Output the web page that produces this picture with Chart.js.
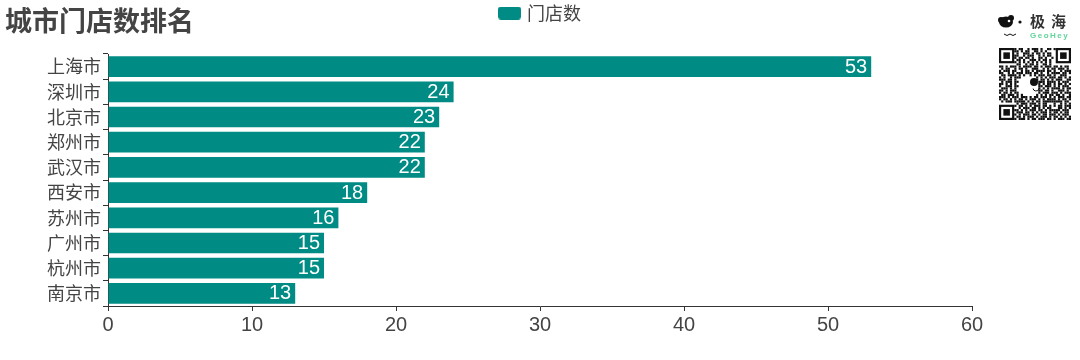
<!DOCTYPE html>
<html>
<head>
<meta charset="utf-8">
<script src="https://cdn.jsdelivr.net/npm/chart.js@4"></script>
<style>
    html, body { margin: 0; padding: 0; background: #fff; }
    #wrap { position: relative; width: 1080px; height: 360px; overflow: hidden; font-family: "Noto Sans CJK SC", sans-serif; }
    #chart { position: absolute; left: 0; top: 0; }
    #title { position: absolute; left: 5px; top: 2px; font-size: 27px; font-weight: 700; color: #444; line-height: 36px; white-space: nowrap; }
    #logo-cn { position: absolute; left: 1030px; top: 11px; font-size: 15px; font-weight: 700; color: #333; letter-spacing: 6px; line-height: 20px; white-space: nowrap; }
    #logo-en { position: absolute; left: 1030px; top: 31px; font-size: 8px; font-weight: 700; color: #62d49a; letter-spacing: 1.5px; line-height: 10px; font-family: "Liberation Sans", sans-serif; }
    #dog { position: absolute; left: 995px; top: 10px; }
    #qr { position: absolute; left: 999px; top: 48px; }
</style>
</head>
<body>
<div id="wrap">
    <canvas id="chart" width="1080" height="360"></canvas>
    <div id="title">城市门店数排名</div>
    <canvas id="dog" width="32" height="30"></canvas>
    <div id="logo-cn">极海</div>
    <div id="logo-en">GeoHey</div>
    <canvas id="qr" width="72" height="72"></canvas>
</div>
<script>
const cities = ['上海市', '深圳市', '北京市', '郑州市', '武汉市', '西安市', '苏州市', '广州市', '杭州市', '南京市'];
const storeCounts = [53, 24, 23, 22, 22, 18, 16, 15, 15, 13];
const xTicks = [0, 10, 20, 30, 40, 50, 60];

const qrRows = [
    '.......#.##..#.###.#..##.#.......',
    '.......##.#.##..##.#.#...........',
    '........#..###.#.##.#.##.........',
    '.......##..#.###..#.#.##.........',
    '.......#.##.##.#..##.#..#........',
    '........##.#..###.#.##.#.........',
    '.......#.#.#.#.#.#.#.#.#.........',
    '........##..#.##.#..##.#.........',
    '##.#.###.#.####.##.#.###.##.#.##.',
    '.#.##..#.##.#..###..#.#.##.###.#.',
    '#.###.##..#.##.#.####.##.#..#.###',
    '##..#.#.###.###.##.#..#.####.##.#',
    '.##.####.#.#..#.#.###.##.#..###..',
    '#.#..#.###.......#.#.#.###.##.#.#',
    '###.##.#.........#.##.#.#.###..##',
    '.#.###.##.........###.####.#.###.',
    '##.#.#.#..........#.#.##.#.##.#.#',
    '#..###.##.........##.###.#.#.###.',
    '.###.#.#..........#.#.#.####.#.##',
    '##.#.###..........##.##.#..###.#.',
    '#.##.#.##.........#.###.###.#.###',
    '.##.###.#.#......#.#.#.##.##.#..#',
    '###.#.###.###.#.##.###.#.#.###.##',
    '#.##.#.#.##.#.###.#.#.####.#.##.#',
    '.#.###.#####.#.#.##.#########.##.',
    '........#.###.###.#.##...#..#.#.#',
    '.......#.##.#.#.###.##.#.#.##.###',
    '.........#.###.##.#.#.##...##.#.#',
    '.......##.#.#.###.##.#.#####.###.',
    '........###.##.#.#.###.#.##.#.##.',
    '.......#.#.###.##.#.##.###.#.###.',
    '........##.#.###.#.###.#.##.#.#.#',
    '.......#.###.#.##.###.##.#.###.##'
];

const teal = '#008b85';
const textColor = '#444';

// legend swatch: 23 wide but takes less room, so the text sits close to it
const legendBox = document.createElement('canvas');
legendBox.width = 23;
legendBox.height = 13;
const boxCtx = legendBox.getContext('2d');
boxCtx.fillStyle = teal;
boxCtx.beginPath();
boxCtx.roundRect(0, 0, 23, 13, 3);
boxCtx.fill();

const barLabels = {
    id: 'barLabels',
    beforeLayout(chart) {
        // legend reserves the band above the plot, whatever its own size is
        const legend = chart.legend;
        if (legend.fitWrapped) return;
        const fit = legend.fit.bind(legend);
        legend.fit = () => { fit(); legend.height = 54; };
        legend.fitWrapped = true;
    },
    afterLayout(chart) {
        // centre the legend on the whole canvas, not on the padded area
        chart.legend.left = 0;
        chart.legend.right = 1082;
    },
    // value labels at the bar end, white on the bar
    afterDatasetsDraw(chart) {
        const ctx = chart.ctx;
        ctx.save();
        ctx.fillStyle = '#fff';
        ctx.font = '20px "Liberation Sans", sans-serif';
        ctx.textAlign = 'right';
        ctx.textBaseline = 'middle';
        chart.getDatasetMeta(0).data.forEach((bar, i) => {
            ctx.fillText(storeCounts[i], bar.x - 4, bar.y + 0.5);
        });
        ctx.restore();
    }
};

new Chart(document.getElementById('chart'), {
    type: 'bar',
    data: {
        labels: cities,
        datasets: [{
            label: '门店数',
            data: storeCounts,
            backgroundColor: teal,
            borderRadius: 0,
            barPercentage: 0.82,
            categoryPercentage: 1
        }]
    },
    options: {
        indexAxis: 'y',
        responsive: false,
        animation: false,
        layout: { padding: { left: 0, right: 108, top: 0, bottom: 0 } },
        plugins: {
            tooltip: { enabled: false },
            legend: {
                display: true,
                position: 'top',
                labels: {
                    usePointStyle: true,
                    pointStyle: legendBox,
                    pointStyleWidth: 17,
                    color: textColor,
                    font: { size: 18, family: '"Noto Sans CJK SC"' },
                    padding: 4
                }
            }
        },
        scales: {
            x: {
                min: 0,
                max: 60,
                afterBuildTicks(axis) { axis.ticks = xTicks.map(v => ({ value: v })); },
                afterFit(axis) { axis.height = 54; },
                grid: { drawOnChartArea: false, color: '#333', tickLength: 5 },
                border: { color: '#333' },
                ticks: { color: textColor, font: { size: 20, family: '"Liberation Sans"' }, maxRotation: 0, padding: 2 }
            },
            y: {
                afterFit(axis) { axis.width = 108; },
                grid: { drawOnChartArea: false, color: '#333', tickLength: 5 },
                border: { color: '#333' },
                ticks: { color: textColor, font: { size: 18, family: '"Noto Sans CJK SC"' }, padding: 2 }
            }
        }
    },
    plugins: [barLabels]
});

// QR block beside the logo
function drawQr() {
    const ctx = document.getElementById('qr').getContext('2d');
    const m = 72 / 33;
    ctx.fillStyle = '#111';
    qrRows.forEach((row, y) => {
        [...row].forEach((c, x) => {
            if (c === '#') ctx.fillRect(x * m, y * m, m, m);
        });
    });
    [[0, 0], [26, 0], [0, 26]].forEach(([x, y]) => {
        ctx.fillStyle = '#111';
        ctx.fillRect(x * m, y * m, 7 * m, 7 * m);
        ctx.fillStyle = '#fff';
        ctx.fillRect((x + 1) * m, (y + 1) * m, 5 * m, 5 * m);
        ctx.fillStyle = '#111';
        ctx.fillRect((x + 2) * m, (y + 2) * m, 3 * m, 3 * m);
    });
    // dog face in the middle
    ctx.fillStyle = '#111';
    ctx.beginPath();
    ctx.arc(35, 34, 4, 0, Math.PI * 2);
    ctx.fill();
    ctx.fillRect(41, 33, 2, 2);
    ctx.strokeStyle = '#111';
    ctx.lineWidth = 1;
    ctx.beginPath();
    ctx.arc(37, 40, 3, 0.2, Math.PI - 0.2);
    ctx.stroke();
}

function drawDog() {
    const ctx = document.getElementById('dog').getContext('2d');
    ctx.fillStyle = '#111';
    ctx.beginPath();
    ctx.ellipse(11, 12, 7, 5.5, 0, 0, Math.PI * 2);
    ctx.fill();
    ctx.beginPath();
    ctx.arc(6, 10, 3, 0, Math.PI * 2);
    ctx.arc(16, 8, 3, 0, Math.PI * 2);
    ctx.fill();
    ctx.fillStyle = '#fff';
    ctx.beginPath();
    ctx.arc(14, 11, 1.3, 0, Math.PI * 2);
    ctx.fill();
    ctx.fillStyle = '#111';
    ctx.beginPath();
    ctx.arc(25, 12, 1.6, 0, Math.PI * 2);
    ctx.fill();
    ctx.strokeStyle = '#111';
    ctx.lineWidth = 1;
    ctx.beginPath();
    ctx.moveTo(9, 24);
    ctx.quadraticCurveTo(12, 27, 15, 24);
    ctx.quadraticCurveTo(18, 27, 21, 24);
    ctx.stroke();
}

drawQr();
drawDog();
</script>
</body>
</html>
